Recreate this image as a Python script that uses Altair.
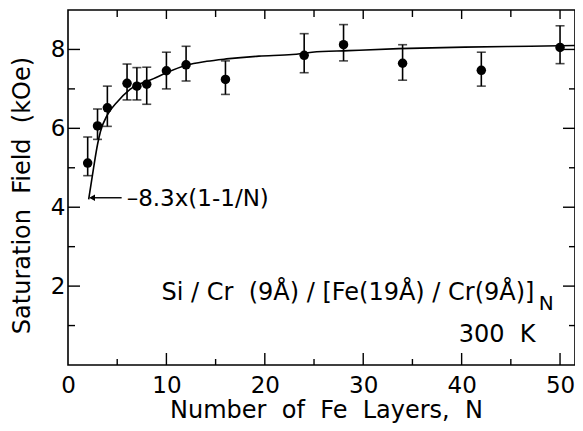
import altair as alt
import pandas as pd

# ---- data ----
N = [2, 3, 4, 6, 7, 8, 10, 12, 16, 24, 28, 34, 42, 50]
F = [5.12, 6.06, 6.52, 7.14, 7.07, 7.12, 7.46, 7.61, 7.24, 7.85, 8.12, 7.65, 7.47, 8.05]
F_lo = [4.80, 5.72, 6.05, 6.72, 6.72, 6.61, 7.00, 7.20, 6.86, 7.41, 7.71, 7.22, 7.07, 7.64]
F_hi = [5.78, 6.49, 7.07, 7.63, 7.54, 7.55, 7.93, 8.08, 7.71, 8.40, 8.63, 8.12, 7.93, 8.60]

# fitted curve 8.3x(1-1/N), as traced on the picture
curve_N = [2.1, 2.6, 3.0, 3.3, 4.0, 5.0, 6.3, 8.7, 10.0, 12.0, 14.1, 16.1, 19.4, 22.8,
           24.8, 28.5, 33.6, 40.3, 47.0, 51.5]
curve_F = [4.20, 5.00, 5.59, 5.92, 6.34, 6.67, 6.99, 7.26, 7.41, 7.60, 7.70, 7.76, 7.83, 7.87,
           7.93, 7.97, 8.02, 8.06, 8.08, 8.10]

x_labels = [0, 10, 20, 30, 40, 50]
y_labels = [2, 4, 6, 8]
x_major = [10, 20, 30, 40, 50]
x_minor = [5, 15, 25, 35, 45]
y_major = [2, 4, 6, 8]
y_minor = [1, 3, 5, 7]

FONT = "DejaVu Sans"
W, H = 507, 355
SP = "\u00a0"

xs = alt.Scale(domain=[0, 51.52], nice=False, zero=False)
ys = alt.Scale(domain=[0, 9], nice=False, zero=False)

pts = pd.DataFrame({"N": N, "F": F, "lo": F_lo, "hi": F_hi})
curve = pd.DataFrame({"N": curve_N, "F": curve_F})

x_axis = alt.Axis(values=x_labels, title=f"Number {SP}of {SP}Fe {SP}Layers, {SP}N", tickSize=0,
                  domain=False, grid=False, labelFont=FONT, labelFontSize=23, labelPadding=9,
                  labelColor="black", labelFlush=False, titleFont=FONT, titleFontSize=24,
                  titleFontWeight="normal", titleColor="black", titleX=258, titleY=33,
                  titleBaseline="top", titleAlign="center")
y_axis = alt.Axis(values=y_labels, title=f"Saturation {SP}Field {SP}(kOe)", tickSize=0,
                  domain=False, grid=False, labelFont=FONT, labelFontSize=23, labelPadding=3,
                  labelColor="black", labelFlush=False, titleFont=FONT, titleFontSize=24,
                  titleFontWeight="normal", titleColor="black", titleAngle=270, titleX=-46,
                  titleY=185, titleBaseline="middle", titleAlign="center")


def X(f):
    return alt.X(f, scale=xs, axis=x_axis)


def Y(f):
    return alt.Y(f, scale=ys, axis=y_axis)


base = alt.Chart(pts)

points = base.mark_circle(size=90, color="black", opacity=1).encode(x=X("N:Q"), y=Y("F:Q"))
bars = base.mark_rule(color="black", strokeWidth=1.6).encode(x=X("N:Q"), y=Y("lo:Q"), y2="hi:Q")
cap_lo = base.mark_tick(orient="horizontal", size=9, thickness=1.6, color="black").encode(
    x=X("N:Q"), y=Y("lo:Q"))
cap_hi = base.mark_tick(orient="horizontal", size=9, thickness=1.6, color="black").encode(
    x=X("N:Q"), y=Y("hi:Q"))
line = alt.Chart(curve).mark_line(color="black", strokeWidth=1.6, interpolate="monotone").encode(
    x=X("N:Q"), y=Y("F:Q"))

# annotation arrow and texts (placed in data coordinates)
arrow_df = pd.DataFrame({"N": [2.3], "x2": [5.45], "F": [4.24]})
arrow = alt.Chart(arrow_df).mark_rule(color="black", strokeWidth=1.4).encode(
    x=X("N:Q"), x2="x2:Q", y=Y("F:Q"))
head = alt.Chart(pd.DataFrame({"N": [2.45], "F": [4.24]})).mark_point(
    shape="triangle-left", filled=True, size=45, color="black", opacity=1).encode(
    x=X("N:Q"), y=Y("F:Q"))

texts_left = pd.DataFrame({"N": [5.96], "F": [4.03], "t": ["\u20138.3x(1-1/N)"]})
t_left = alt.Chart(texts_left).mark_text(align="left", baseline="alphabetic", font=FONT,
                                         fontSize=23, color="black").encode(
    x=X("N:Q"), y=Y("F:Q"), text="t:N")

texts_right = pd.DataFrame({
    "N": [47.4, 47.5], "F": [1.64, 0.58],
    "t": [f"Si / Cr {SP}(9\u00c5) / [Fe(19\u00c5) / Cr(9\u00c5)]", f"300 {SP}K"]})
t_right = alt.Chart(texts_right).mark_text(align="right", baseline="alphabetic", font=FONT,
                                           fontSize=24, color="black").encode(
    x=X("N:Q"), y=Y("F:Q"), text="t:N")
t_sub = alt.Chart(pd.DataFrame({"N": [48.6], "F": [1.39], "t": ["N"]})).mark_text(
    align="center", baseline="alphabetic", font=FONT, fontSize=20, color="black").encode(
    x=X("N:Q"), y=Y("F:Q"), text="t:N")


# inward ticks on all four sides
def xticks(vals, y0, y1):
    return alt.Chart(pd.DataFrame({"N": vals})).mark_rule(color="black", strokeWidth=1.4).encode(
        x=X("N:Q"), y=alt.value(y0), y2=alt.value(y1))


def yticks(vals, x0, x1):
    return alt.Chart(pd.DataFrame({"F": vals})).mark_rule(color="black", strokeWidth=1.4).encode(
        y=Y("F:Q"), x=alt.value(x0), x2=alt.value(x1))


ticks = [
    xticks(x_major, H, H - 12), xticks(x_minor, H, H - 6),
    xticks(x_major, 0, 9), xticks(x_minor, 0, 7),
    yticks(y_major, 0, 12), yticks(y_minor, 0, 7),
    yticks(y_major, W, W - 12), yticks(y_minor, W, W - 6),
]

chart = alt.layer(points, bars, cap_lo, cap_hi, line, arrow, head, t_left, t_right, t_sub,
                  *ticks).properties(
    width=W, height=H,
    autosize=alt.AutoSizeParams(type="none"),
    padding={"left": 60, "top": 2, "right": 0, "bottom": 58},
).configure_view(stroke="black", strokeWidth=1.6)

chart.save("out.html", embed_options={"renderer": "svg", "actions": False})
